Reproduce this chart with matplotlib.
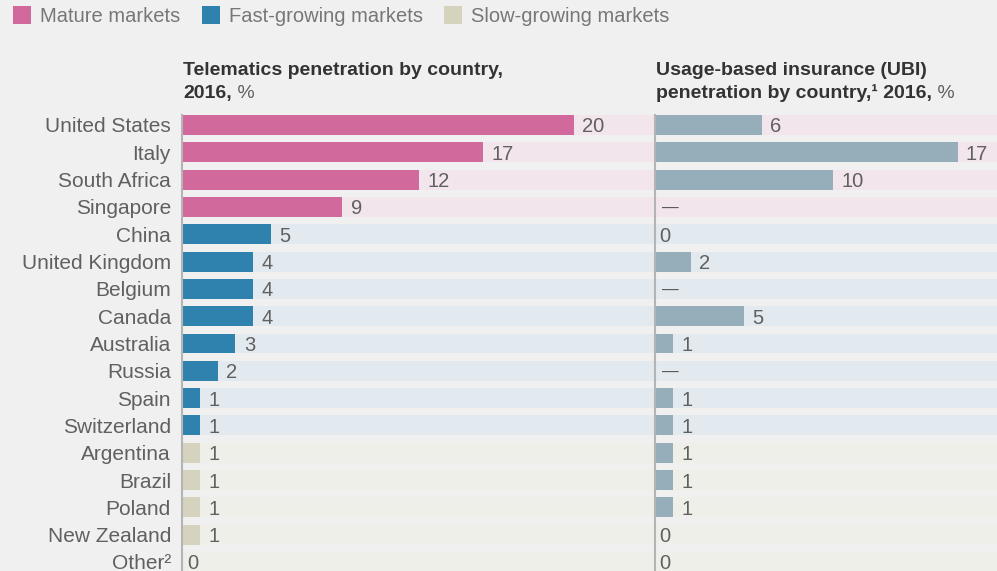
import matplotlib.pyplot as plt
from matplotlib.patches import Patch

plt.rcParams['font.family'] = ['Liberation Sans', 'DejaVu Sans']

countries = ['United States', 'Italy', 'South Africa', 'Singapore', 'China',
             'United Kingdom', 'Belgium', 'Canada', 'Australia', 'Russia',
             'Spain', 'Switzerland', 'Argentina', 'Brazil', 'Poland',
             'New Zealand', 'Other²']
groups = ['mature'] * 4 + ['fast'] * 8 + ['slow'] * 5

# printed labels and bar lengths
telematics_pct = [20, 17, 12, 9, 5, 4, 4, 4, 3, 2, 1, 1, 1, 1, 1, 1, 0]
telematics_bar = [22, 16.9, 13.3, 9, 5, 4, 4, 4, 3, 2, 1, 1, 1, 1, 1, 1, 0]
ubi_pct = [6, 17, 10, None, 0, 2, None, 5, 1, None, 1, 1, 1, 1, 1, 0, 0]

bar_colors = {'mature': '#d1699c', 'fast': '#2f82ad', 'slow': '#d5d2be'}
stripe_colors = {'mature': '#f2e5ec', 'fast': '#e2e9ef', 'slow': '#efefe9'}
legend_names = {'mature': 'Mature markets', 'fast': 'Fast-growing markets',
                'slow': 'Slow-growing markets'}
ubi_color = '#96adba'
bg = '#f0f0f0'
text_gray = '#606060'
title_dark = '#333333'

W, H = 997, 571
px = 17.8  # pixels per percentage point
fig = plt.figure(figsize=(W / 100, H / 100), dpi=100, facecolor=bg)

ax_l = fig.add_axes([182 / W, 0, 473 / W, (H - 115) / H])
ax_r = fig.add_axes([655 / W, 0, 342 / W, (H - 115) / H])

rows = list(range(len(countries)))
bar_h = 0.73


def style(ax, xmax):
    ax.set_facecolor('none')
    ax.set_xlim(0, xmax)
    ax.set_ylim(16.33, -0.366)
    for s in ['top', 'right', 'bottom']:
        ax.spines[s].set_visible(False)
    ax.spines['left'].set_color('#b4b4b4')
    ax.spines['left'].set_linewidth(1.5)
    ax.spines['left'].set_zorder(5)
    ax.set_xticks([])
    ax.tick_params(axis='y', length=0)


# left panel
style(ax_l, 473 / px)
ax_l.barh(rows, [473 / px] * len(rows), height=bar_h,
          color=[stripe_colors[g] for g in groups], zorder=0)
ax_l.barh(rows, telematics_bar, height=bar_h,
          color=[bar_colors[g] for g in groups], zorder=2)
for r, v, lab in zip(rows, telematics_bar, telematics_pct):
    ax_l.annotate(str(lab), xy=(v, r), xytext=(6 if v > 0 else 4, 0),
                  textcoords='offset points', ha='left', va='center_baseline',
                  fontsize=14.5, color=text_gray)
ax_l.set_yticks(rows)
ax_l.set_yticklabels(countries, fontsize=15, color=text_gray,
                     va='center_baseline')
ax_l.tick_params(axis='y', pad=8)

# right panel
style(ax_r, 342 / px)
ax_r.barh(rows, [342 / px] * len(rows), height=bar_h,
          color=[stripe_colors[g] for g in groups], zorder=0)
ax_r.barh(rows, [v if v else 0 for v in ubi_pct], height=bar_h,
          color=ubi_color, zorder=2)
ax_r.set_yticks([])
for r, v in zip(rows, ubi_pct):
    if v is None:
        ax_r.annotate('—', xy=(0, r), xytext=(5, 0), textcoords='offset points',
                      ha='left', va='center_baseline', fontsize=12,
                      color='#555555')
    else:
        ax_r.annotate(str(v), xy=(v, r), xytext=(6 if v > 0 else 3, 0),
                      textcoords='offset points', ha='left',
                      va='center_baseline', fontsize=14.5, color=text_gray)

# titles
fig.text(183 / W, 1 - 75 / H, 'Telematics penetration by country,',
         fontsize=14, fontweight='bold', color=title_dark, va='baseline')
t1 = fig.text(183 / W, 1 - 98 / H, '2016,', fontsize=14, fontweight='bold',
              color=title_dark, va='baseline')
fig.text(656 / W, 1 - 75 / H, 'Usage-based insurance (UBI)',
         fontsize=14, fontweight='bold', color=title_dark, va='baseline')
t2 = fig.text(656 / W, 1 - 98 / H, 'penetration by country,¹ 2016,',
              fontsize=14, fontweight='bold', color=title_dark, va='baseline')
for t in (t1, t2):
    fig.add_artist(plt.Annotation(' %', xy=(1, 0), xycoords=t, ha='left',
                                  va='bottom', fontsize=14, color=text_gray))

# legend
handles = [Patch(facecolor=bar_colors[g], label=legend_names[g])
           for g in ['mature', 'fast', 'slow']]
fig.legend(handles=handles, loc='upper left',
           bbox_to_anchor=(13 / W, 1 - 6 / H),
           ncol=3, frameon=False, fontsize=14.5, labelcolor='#777777',
           handlelength=0.9, handleheight=1.0, handletextpad=0.45,
           columnspacing=1.05, borderpad=0, borderaxespad=0)

fig.savefig('out.png', dpi=100, facecolor=bg)
